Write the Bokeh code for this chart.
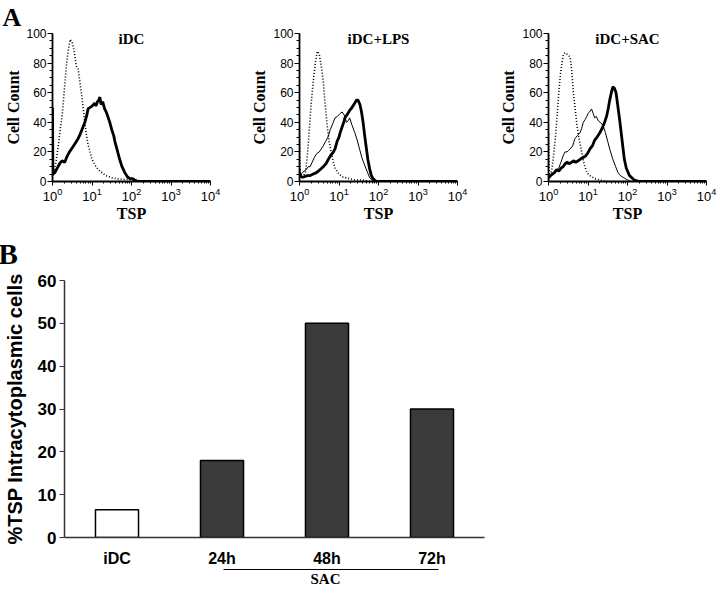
import numpy as np
from bokeh.plotting import figure
from bokeh.layouts import row, column
from bokeh.models import Range1d, FixedTicker, Label, LinearAxis, Title
from bokeh.embed import file_html
from bokeh.resources import INLINE

SERIF = "Liberation Serif"
SANS = "Liberation Sans"

# ---------------- Panel A data (x in decades of TSP fluorescence, y = cell count) -------------
idc_iso_dec = [0, 0.05, 0.1, 0.15, 0.2, 0.25, 0.3, 0.35, 0.4, 0.45, 0.5, 0.55, 0.6, 0.65, 0.7,
               0.75, 0.8, 0.85, 0.9, 1.0, 1.1, 1.2, 1.35, 1.5, 1.7, 1.9, 2.1, 2.3, 4.0]
idc_iso_cnt = [2, 8, 15, 25, 36, 46, 62, 78, 89, 96, 94, 88, 78, 76, 66,
               56, 44, 33, 25, 15, 10, 7, 4, 2.5, 1.5, 1.5, 1, 0, 0]
idc_tsp_dec = [0, 0.01, 0.06, 0.12, 0.18, 0.24, 0.31, 0.37, 0.43, 0.48, 0.53, 0.58, 0.65, 0.7, 0.76,
               0.82, 0.87, 0.9, 0.95, 1.0, 1.04, 1.07, 1.1, 1.14, 1.17, 1.2, 1.23, 1.27, 1.32, 1.36,
               1.4, 1.45, 1.5, 1.55, 1.58, 1.63, 1.7, 1.76, 1.83, 1.9, 1.96, 2.02, 2.08, 2.15, 4.0]
idc_tsp_cnt = [50, 5, 6, 9, 12, 14, 13, 17, 20, 22, 24, 26, 29, 32, 36,
               40, 45, 49, 50, 51, 52, 53, 51, 54, 55, 57, 52, 54, 49, 47,
               44, 40, 35, 31, 27, 22, 15, 10, 6, 3, 2, 2, 1, 0, 0]

lps_iso_dec = [0, 0.02, 0.06, 0.1, 0.15, 0.2, 0.25, 0.3, 0.35, 0.4, 0.45, 0.5, 0.55, 0.6, 0.65,
               0.7, 0.75, 0.8, 0.85, 0.9, 1.0, 1.1, 1.25, 1.4, 1.6, 1.8, 4.0]
lps_iso_cnt = [33, 4, 3, 4, 6, 18, 36, 54, 68, 80, 88, 86, 78, 68, 52,
               38, 27, 20, 14, 9, 5, 3, 2, 1, 1, 0, 0]
lps_idc_dec = [0, 0.03, 0.07, 0.12, 0.17, 0.22, 0.27, 0.32, 0.37, 0.44, 0.5, 0.55, 0.6, 0.66, 0.72,
               0.78, 0.84, 0.9, 0.96, 1.03, 1.08, 1.13, 1.19, 1.23, 1.27, 1.33, 1.4, 1.46, 1.52, 1.58,
               1.65, 1.71, 1.77, 1.83, 1.9, 4.0]
lps_idc_cnt = [10, 4, 6, 7, 8, 10, 10, 13, 16, 19, 20, 22, 24, 27, 30,
               35, 39, 43, 44, 46, 47, 45, 40, 41, 43, 38, 33, 28, 22, 16,
               11, 7, 3, 1, 0, 0]
lps_tsp_dec = [0, 0.05, 0.1, 0.2, 0.27, 0.35, 0.43, 0.52, 0.6, 0.67, 0.73, 0.8, 0.86, 0.9, 0.95,
               1.0, 1.03, 1.08, 1.12, 1.15, 1.2, 1.27, 1.33, 1.4, 1.44, 1.48, 1.53, 1.57, 1.61, 1.65,
               1.69, 1.73, 1.78, 1.82, 1.86, 1.9, 1.95, 4.0]
lps_tsp_cnt = [5, 3, 3, 4, 4, 5, 6, 8, 10, 12, 15, 18, 20, 22, 27,
               30, 33, 37, 40, 43, 45, 48, 50, 53, 55, 55, 52, 47, 40, 31,
               23, 15, 8, 4, 2, 1, 0, 0]

sac_iso_dec = [0, 0.02, 0.05, 0.09, 0.13, 0.18, 0.22, 0.26, 0.3, 0.34, 0.38, 0.42, 0.47, 0.51, 0.55,
               0.59, 0.63, 0.68, 0.72, 0.78, 0.84, 0.9, 0.97, 1.05, 1.17, 1.3, 1.5, 4.0]
sac_iso_cnt = [32, 3, 4, 9, 18, 31, 45, 60, 72, 80, 86, 87, 86, 85, 84,
               74, 60, 48, 38, 28, 20, 12, 6, 4, 2, 1, 0, 0]
sac_idc_dec = [0, 0.03, 0.07, 0.13, 0.2, 0.26, 0.3, 0.34, 0.38, 0.42, 0.47, 0.51, 0.55, 0.61, 0.67,
               0.73, 0.8, 0.84, 0.88, 0.93, 0.97, 1.0, 1.04, 1.09, 1.13, 1.17, 1.21, 1.26, 1.31, 1.38,
               1.44, 1.5, 1.56, 1.63, 1.7, 1.76, 1.82, 1.88, 1.94, 2.0, 2.1, 4.0]
sac_idc_cnt = [5, 2, 4, 6, 8, 9, 12, 15, 18, 20, 20, 21, 22, 24, 29,
               31, 33, 36, 40, 42, 44, 46, 47, 49, 46, 43, 44, 41, 40, 38,
               33, 27, 21, 15, 10, 6, 4, 3, 2, 1, 0, 0]
sac_tsp_dec = [0, 0.05, 0.1, 0.15, 0.2, 0.26, 0.32, 0.37, 0.42, 0.47, 0.53, 0.58, 0.63, 0.69, 0.75,
               0.8, 0.86, 0.93, 0.99, 1.05, 1.11, 1.17, 1.23, 1.3, 1.36, 1.42, 1.47, 1.51, 1.55, 1.59,
               1.63, 1.67, 1.71, 1.75, 1.8, 1.84, 1.88, 1.92, 1.97, 2.05, 2.17, 2.3, 4.0]
sac_tsp_cnt = [3, 4, 5, 6, 8, 7, 9, 10, 12, 13, 12, 13, 14, 13, 14,
               15, 16, 17, 19, 22, 24, 28, 30, 33, 36, 40, 44, 49, 55, 60,
               64, 63, 60, 52, 42, 33, 24, 15, 9, 4, 1, 0, 0]

panel_titles = ["iDC", "iDC+LPS", "iDC+SAC"]
y_ticks_a = [0, 20, 40, 60, 80, 100]

# ---------------- Panel B data -------------
b_cats = ["iDC", "24h", "48h", "72h"]
b_vals = [6.5, 18, 50, 30]
b_fill = ["white", "#3a3a3a", "#3a3a3a", "#3a3a3a"]
b_ticks = [0, 10, 20, 30, 40, 50, 60]
sac_span = (1.51, 3.56)   # synthetic categorical coords of the SAC bracket


def hist_panel(title, curves, bl, br, label_standoff, letter=""):
    p = figure(frame_width=158, frame_height=148, x_axis_type="log",
               x_range=Range1d(1, 10000), y_range=Range1d(0, 100),
               output_backend="svg", toolbar_location=None, title=letter,
               min_border_left=bl, min_border_right=br,
               min_border_top=33, min_border_bottom=45)
    p.outline_line_color = None
    p.grid.visible = False
    p.title.align = "left"
    p.title.vertical_align = "top"
    p.title.offset = -50
    p.title.standoff = 0
    p.title.text_font = SERIF
    p.title.text_font_style = "bold"
    p.title.text_font_size = "26px"
    p.title.text_color = "black"
    for dec, cnt, kind in curves:
        xs = 10 ** np.array(dec, dtype=float)
        if kind == "iso":
            p.line(xs, cnt, line_color="black", line_width=1.6, line_dash="1 2")
        elif kind == "thin":
            p.line(xs, cnt, line_color="black", line_width=1.0)
        else:
            p.line(xs, cnt, line_color="black", line_width=2.8)
    ya = p.yaxis[0]
    ya.ticker = FixedTicker(ticks=y_ticks_a, minor_ticks=list(range(0, 101, 5)))
    ya.axis_label = "Cell Count"
    ya.axis_label_text_font = SERIF
    ya.axis_label_text_font_style = "bold"
    ya.axis_label_text_font_size = "16px"
    ya.axis_label_standoff = label_standoff
    ya.major_label_standoff = 1
    ya.major_label_text_font = SANS
    ya.major_label_text_font_size = "12px"
    ya.major_tick_out = 5
    ya.major_tick_in = 0
    ya.minor_tick_out = 3
    ya.minor_tick_in = 0
    ya.axis_line_width = 1.8
    xa = p.xaxis[0]
    xa.axis_label = "TSP"
    xa.axis_label_text_font = SERIF
    xa.axis_label_text_font_style = "bold"
    xa.axis_label_text_font_size = "16px"
    xa.axis_label_standoff = 1
    xa.major_label_standoff = 2
    xa.major_label_text_font = SANS
    xa.major_label_text_font_size = "13px"
    xa.major_tick_out = 4
    xa.major_tick_in = 0
    xa.minor_tick_out = 2
    xa.minor_tick_in = 0
    xa.axis_line_width = 2
    for ax in (xa, ya):
        ax.axis_line_color = "black"
        ax.major_tick_line_color = "black"
        ax.minor_tick_line_color = "black"
        ax.major_label_text_color = "black"
        ax.axis_label_text_color = "black"
    p.add_layout(Label(x=100, y=96, text=title, text_align="center", text_baseline="middle",
                       text_color="black", text_font=SERIF, text_font_style="bold",
                       text_font_size="15px"))
    return p


p1 = hist_panel(panel_titles[0], [(idc_iso_dec, idc_iso_cnt, "iso"),
                                  (idc_tsp_dec, idc_tsp_cnt, "thick")], 52, 38, 1, letter="A")
p2 = hist_panel(panel_titles[1], [(lps_iso_dec, lps_iso_cnt, "iso"),
                                  (lps_idc_dec, lps_idc_cnt, "thin"),
                                  (lps_tsp_dec, lps_tsp_cnt, "thick")], 51, 40, 2)
p3 = hist_panel(panel_titles[2], [(sac_iso_dec, sac_iso_cnt, "iso"),
                                  (sac_idc_dec, sac_idc_cnt, "thin"),
                                  (sac_tsp_dec, sac_tsp_cnt, "thick")], 51, 13, 2)

# ---------------- Panel B -------------
pb = figure(x_range=b_cats, y_range=Range1d(0, 60), frame_width=420, frame_height=257,
            output_backend="svg", toolbar_location=None, title="B",
            min_border_left=64, min_border_right=235, min_border_top=54, min_border_bottom=54)
pb.outline_line_color = None
pb.grid.visible = False
pb.x_range.range_padding = 0
pb.title.align = "left"
pb.title.vertical_align = "top"
pb.title.offset = -66
pb.title.standoff = 18
pb.title.text_font = SERIF
pb.title.text_font_style = "bold"
pb.title.text_font_size = "29px"
pb.title.text_color = "black"
pb.vbar(x=b_cats, top=b_vals, width=0.41, fill_color=b_fill, line_color="black", line_width=1.5)

yb = pb.yaxis[0]
yb.ticker = FixedTicker(ticks=b_ticks)
yb.axis_label = "%TSP Intracytoplasmic cells"
yb.axis_label_text_font = SANS
yb.axis_label_text_font_style = "bold"
yb.axis_label_text_font_size = "20px"
yb.axis_label_standoff = 9
yb.major_label_text_font = SANS
yb.major_label_text_font_style = "bold"
yb.major_label_text_font_size = "17px"
yb.major_label_standoff = 3
yb.major_tick_out = 5
yb.major_tick_in = 0
yb.minor_tick_line_color = None
yb.axis_line_width = 1.5
yb.axis_line_color = "#333333"
yb.major_tick_line_color = "#333333"

xb = pb.xaxis[0]
xb.major_tick_line_color = None
xb.minor_tick_line_color = None
xb.major_tick_out = 0
xb.major_tick_in = 0
xb.axis_line_width = 1.5
xb.axis_line_color = "#333333"
xb.major_label_text_font = SANS
xb.major_label_text_font_style = "bold"
xb.major_label_text_font_size = "16px"
xb.major_label_standoff = 12
for ax in (xb, yb):
    ax.major_label_text_color = "black"
    ax.axis_label_text_color = "black"

sac_axis = LinearAxis(ticker=FixedTicker(ticks=[]), bounds=sac_span,
                      axis_line_color="black", axis_line_width=1.2,
                      major_tick_line_color=None, minor_tick_line_color=None,
                      major_tick_out=0, major_tick_in=0, minor_tick_out=0, minor_tick_in=0,
                      major_label_standoff=0)
pb.add_layout(sac_axis, "below")
pb.add_layout(Title(text="SAC", align="left", offset=246, standoff=2, vertical_align="top",
                    text_color="black", text_font=SERIF, text_font_style="bold",
                    text_font_size="15px"), "below")

layout = column(row(p1, p2, p3), pb)
open("out.html", "w").write(file_html(layout, INLINE))
